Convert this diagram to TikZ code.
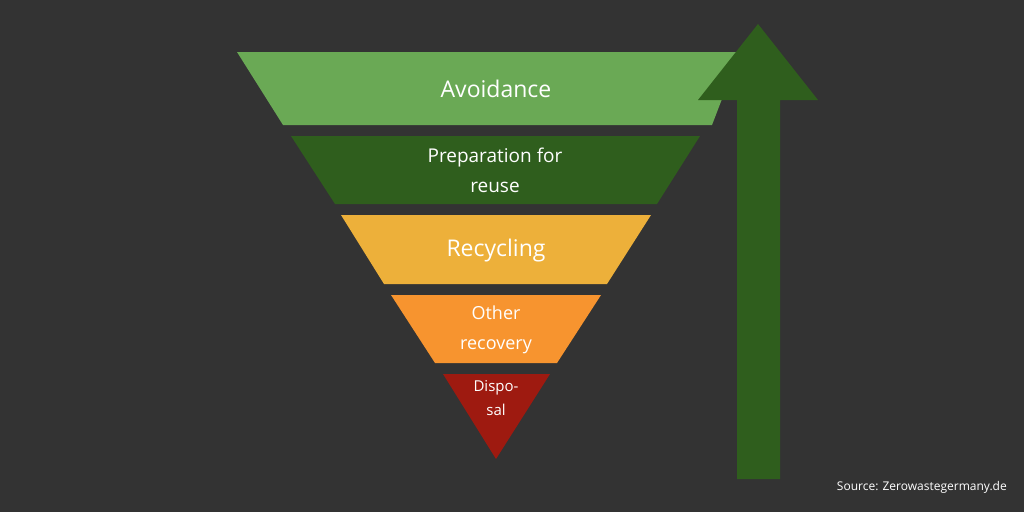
\documentclass[tikz,border=0pt]{standalone}
\usepackage{fontspec}
\setmainfont{Open Sans}
\usetikzlibrary{positioning,calc}
\definecolor{bgGray}{HTML}{333333}
\definecolor{lightGreen}{HTML}{6AA955}
\definecolor{darkGreen}{HTML}{2F5E1D}
\definecolor{recYellow}{HTML}{EDB03A}
\definecolor{recOrange}{HTML}{F7942F}
\definecolor{dispRed}{HTML}{9E1A10}
\begin{document}
\begin{tikzpicture}[x=1pt,y=-1pt]

\tikzset{
	layerLabel/.style={
		text=white,
		align=center,
		inner sep=0pt
	}
}

\fill[bgGray] (0,0) rectangle (1024,512);
\useasboundingbox (0,0) rectangle (1024,512);

\fill[lightGreen] (237,52) -- (740,52) -- (712,125) -- (283,125) -- cycle;
\fill[darkGreen] (291,136) -- (700,136) -- (657,204) -- (335,204) -- cycle;
\fill[recYellow] (341,215) -- (651,215) -- (607,284) -- (384,284) -- cycle;
\fill[recOrange] (391,295) -- (601,295) -- (557,363) -- (435,363) -- cycle;
\fill[dispRed] (443,374) -- (550,374) -- (496,459) -- cycle;

\fill[darkGreen] (737,479) -- (737,100) -- (698,100) -- (758,24) -- (818,100) -- (780,100) -- (780,479) -- cycle;

\node[layerLabel, font=\fontsize{23}{27}\selectfont] (Avoid) at (496,89) {Avoidance};
\node[layerLabel, font=\fontsize{19}{30}\selectfont] (Reuse) at (495,170) {Preparation for\\reuse};
\node[layerLabel, font=\fontsize{23}{27}\selectfont] (Recyc) at (496,251) {Recycling};
\node[layerLabel, font=\fontsize{18}{30}\selectfont] (Recov) at (496,330) {Other\\recovery};
\node[layerLabel, font=\fontsize{15}{24}\selectfont] (Disp) at (496,398) {Dispo-\\sal};

\node[layerLabel, font=\fontsize{12}{14}\selectfont, anchor=east] (Src) at (1007,487) {Source: Zerowastegermany.de};

\end{tikzpicture}
\end{document}
